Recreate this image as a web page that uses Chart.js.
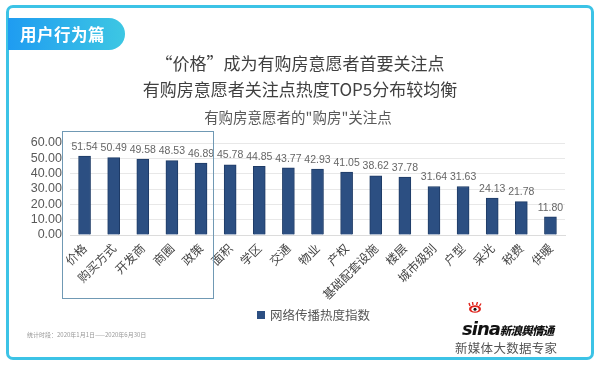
<!DOCTYPE html>
<html>
<head>
<meta charset="utf-8">
<script src="https://cdn.jsdelivr.net/npm/chart.js@4.4.1/dist/chart.umd.min.js"></script>
<style>
  html, body { margin:0; padding:0; background:#fff; }
  #wrap { position:relative; width:600px; height:365px; overflow:hidden; font-family:"Noto Sans CJK SC", "Noto Sans", sans-serif; }
  #frame { position:absolute; left:6px; top:5px; width:582px; height:349px; border:3px solid #3cc3e6; border-radius:7px; box-sizing:content-box; }
  #tag { position:absolute; left:8px; top:18px; width:117px; height:32px; border-radius:0 16px 16px 0;
         background:linear-gradient(90deg,#1f9cf1 0%,#3dc7e3 100%); color:#fff; font-weight:bold; font-size:16.5px;
         line-height:32px; padding-left:12px; box-sizing:border-box; letter-spacing:0.5px; }
  .t { position:absolute; left:0; width:600px; text-align:center; color:#404040; font-size:17px; }
  #ctitle { position:absolute; left:0; width:596px; text-align:center; top:106px; color:#595959; font-size:14.5px; }
  #hl { position:absolute; left:62px; top:131px; width:150px; height:166px; border:1.5px solid #7099b4; }
  #legend { position:absolute; left:257px; top:305px; font-size:12.5px; color:#555; }
  #legend span.sq { display:inline-block; width:8px; height:8px; background:#2c4f82; margin-right:5px; vertical-align:1px; }
  #foot { position:absolute; left:27px; top:330px; font-size:6px; color:#999; white-space:nowrap; }
  #sina { position:absolute; left:462px; top:316px; font-style:italic; font-weight:900; color:#111; white-space:nowrap; }
  #sina .s { font-family:"DejaVu Sans", sans-serif; font-size:18px; letter-spacing:-1px; }
  #sina .c { font-size:11.5px; letter-spacing:-0.8px; }
  #eye { position:absolute; left:468px; top:302px; width:14px; height:11px; }
  #slogan { position:absolute; left:455px; top:338px; font-size:12.5px; color:#555; letter-spacing:0.3px; }
  canvas { position:absolute; left:0; top:0; }
</style>
</head>
<body>
<div id="wrap">
  <canvas id="c" width="600" height="365"></canvas>
  <div id="frame"></div>
  <div id="tag">用户行为篇</div>
  <div class="t" style="top:50px;">“价格”成为有购房意愿者首要关注点</div>
  <div class="t" style="top:76px;">有购房意愿者关注点热度TOP5分布较均衡</div>
  <div id="ctitle">有购房意愿者的"购房"关注点</div>
  <div id="hl"></div>
  <div id="legend"><span class="sq"></span>网络传播热度指数</div>
  <div id="foot">统计时段：2020年1月1日——2020年6月30日</div>
  <svg id="eye" viewBox="0 0 14 11">
    <ellipse cx="7" cy="7" rx="6" ry="3.8" fill="#e0241c"/>
    <ellipse cx="7" cy="7.3" rx="3.6" ry="2.3" fill="#fff"/>
    <circle cx="7" cy="7.3" r="1.5" fill="#111"/>
    <path d="M2 4 L1 1 M5 3 L4.5 0 M8.5 3 L9.5 0 M11.5 4 L13 1.5" stroke="#e0241c" stroke-width="1.4"/>
  </svg>
  <div id="sina"><span class="s">sina</span><span class="c">新浪舆情通</span></div>
  <div id="slogan">新媒体大数据专家</div>
</div>
<script>
const categories = ["价格","购买方式","开发商","商圈","政策","面积","学区","交通","物业","产权","基础配套设施","楼层","城市级别","户型","采光","税费","供暖"];
const heatValues = [51.54,50.49,49.58,48.53,46.89,45.78,44.85,43.77,42.93,41.05,38.62,37.78,31.64,31.63,24.13,21.78,11.80];
const seriesName = "网络传播热度指数";
const yTicks = [0,10,20,30,40,50,60];

const valueLabels = {
  id: 'valueLabels',
  afterDatasetsDraw(chart) {
    const ctx = chart.ctx;
    const meta = chart.getDatasetMeta(0);
    ctx.save();
    ctx.font = '10.5px "Liberation Sans", Arial, sans-serif';
    ctx.fillStyle = '#666';
    ctx.textAlign = 'center';
    ctx.textBaseline = 'bottom';
    meta.data.forEach((bar, i) => {
      ctx.fillText(heatValues[i].toFixed(2), bar.x, bar.y - 4);
    });
    ctx.restore();
  }
};

new Chart(document.getElementById('c'), {
  type: 'bar',
  data: {
    labels: categories,
    datasets: [{
      label: seriesName,
      data: heatValues,
      backgroundColor: '#2c4f82',
      borderColor: '#1e3b66',
      borderWidth: 1,
      barThickness: 12
    }]
  },
  options: {
    responsive: false,
    animation: false,
    devicePixelRatio: 1,
    layout: { padding: { left: 0, top: 143, right: 35, bottom: 60 } },
    plugins: { legend: { display: false }, tooltip: { enabled: false } },
    scales: {
      x: {
        grid: { display: false, drawTicks: false },
        border: { display: true, color: '#dcdcdc' },
        ticks: {
          minRotation: 45, maxRotation: 45, padding: 6, autoSkip: false,
          color: '#444', font: { size: 12, family: '"Noto Sans CJK SC", sans-serif' }
        },
        afterFit(scale) { scale.height = 70; }
      },
      y: {
        min: yTicks[0], max: yTicks[yTicks.length - 1],
        afterBuildTicks(scale) { scale.ticks = yTicks.map(v => ({ value: v })); },
        grid: { color: '#e8e8e8', drawTicks: false },
        border: { display: false },
        ticks: {
          autoSkip: false,
          padding: 8, color: '#595959',
          font: { size: 12.5, family: '"Liberation Sans", Arial, sans-serif' },
          callback: v => Number(v).toFixed(2)
        },
        afterFit(scale) { scale.width = 70; }
      }
    }
  },
  plugins: [valueLabels]
});
</script>
</body>
</html>
